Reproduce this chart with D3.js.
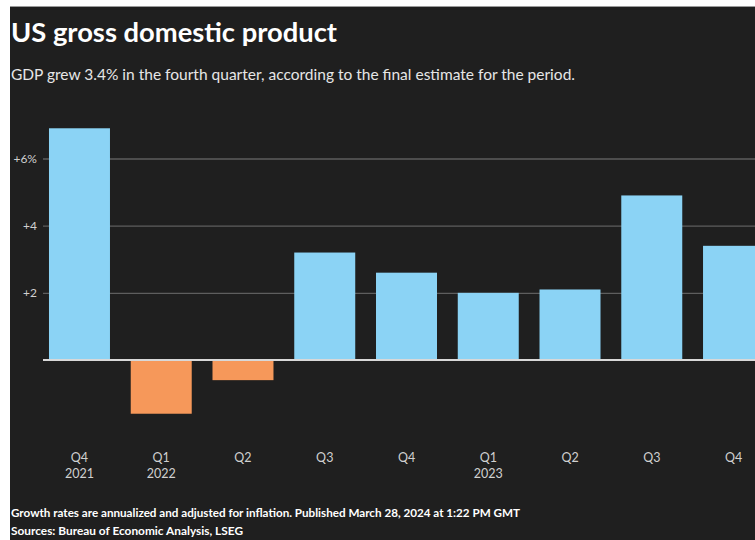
<!DOCTYPE html>
<html>
<head>
<meta charset="utf-8">
<script src="https://cdn.jsdelivr.net/npm/d3@7"></script>
<style>
  html, body { margin: 0; padding: 0; background: #ffffff; }
  svg { display: block; }
  text { font-family: Lato, "Noto Sans", sans-serif; }
</style>
</head>
<body>
<div id="chart"></div>
<script>
// 数据
const quarters = ['Q4', 'Q1', 'Q2', 'Q3', 'Q4', 'Q1', 'Q2', 'Q3', 'Q4'];
const years = ['2021', '2022', '', '', '', '2023', '', '', ''];
const growth = [6.9, -1.6, -0.6, 3.2, 2.6, 2.0, 2.1, 4.9, 3.4];
const yTicks = [2, 4, 6];

const width = 755, height = 540;

const svg = d3.select('#chart')
  .append('svg')
  .attr('width', width)
  .attr('height', height);

// 背景（截图的白边）
svg.append('rect').attr('width', width).attr('height', height).attr('fill', '#ffffff');
svg.append('rect')
  .attr('x', 10).attr('y', 6)
  .attr('width', width - 10).attr('height', height - 6)
  .attr('fill', '#1f1f1f');
svg.append('line')
  .attr('x1', 10).attr('x2', width).attr('y1', 6.5).attr('y2', 6.5)
  .attr('stroke', '#9a9a9a').attr('stroke-width', 1);

// 比例尺
const x = d3.scaleBand()
  .domain(d3.range(growth.length))
  .range([38.6, 774.4])
  .paddingInner(0.254)
  .paddingOuter(0.127);

const y = d3.scaleLinear()
  .domain([0, 6])
  .range([360, 158.5]);

const plot = svg.append('g');

// 网格线
const yAxis = d3.axisLeft(y)
  .tickValues(yTicks)
  .tickSize(-(width - 43))
  .tickFormat(d => d === 6 ? '+6%' : '+' + d);

const gy = plot.append('g')
  .attr('transform', 'translate(43,0)')
  .call(yAxis);
gy.select('.domain').remove();
gy.selectAll('.tick line')
  .attr('stroke', '#5e5e5e')
  .attr('stroke-width', 1.3);
gy.selectAll('.tick text')
  .attr('x', -6)
  .attr('fill', '#d0d0d0')
  .attr('font-size', 12);

// 柱子
plot.append('g')
  .selectAll('rect')
  .data(growth)
  .join('rect')
  .attr('x', (d, i) => x(i))
  .attr('width', x.bandwidth())
  .attr('y', d => y(Math.max(0, d)))
  .attr('height', d => Math.abs(y(d) - y(0)))
  .attr('fill', d => d >= 0 ? '#8bd3f5' : '#f6985a');

// 零线
plot.append('line')
  .attr('x1', 43).attr('x2', width)
  .attr('y1', y(0)).attr('y2', y(0))
  .attr('stroke', '#d8d8d8')
  .attr('stroke-width', 2);

// X 轴标签
const xl = plot.append('g')
  .selectAll('g')
  .data(quarters)
  .join('g')
  .attr('transform', (d, i) => `translate(${x(i) + x.bandwidth() / 2},0)`);
xl.append('text')
  .attr('y', 462)
  .attr('text-anchor', 'middle')
  .attr('fill', '#d0d0d0')
  .attr('font-size', 12.5)
  .text(d => d);
xl.append('text')
  .attr('y', 478)
  .attr('text-anchor', 'middle')
  .attr('fill', '#d0d0d0')
  .attr('font-size', 12.5)
  .text((d, i) => years[i]);

// 标题
svg.append('text')
  .attr('x', 11).attr('y', 42)
  .attr('fill', '#ffffff')
  .attr('font-size', 26)
  .attr('font-weight', 700)
  .attr('textLength', 326)
  .attr('lengthAdjust', 'spacingAndGlyphs')
  .text('US gross domestic product');

svg.append('text')
  .attr('x', 11).attr('y', 80)
  .attr('fill', '#e6e6e6')
  .attr('font-size', 15)
  .attr('textLength', 564)
  .attr('lengthAdjust', 'spacingAndGlyphs')
  .text('GDP grew 3.4% in the fourth quarter, according to the final estimate for the period.');

// 脚注
svg.append('text')
  .attr('x', 11).attr('y', 517)
  .attr('fill', '#ffffff')
  .attr('font-size', 11)
  .attr('font-weight', 700)
  .attr('textLength', 509)
  .attr('lengthAdjust', 'spacingAndGlyphs')
  .text('Growth rates are annualized and adjusted for inflation. Published March 28, 2024 at 1:22 PM GMT');

svg.append('text')
  .attr('x', 11).attr('y', 535)
  .attr('fill', '#ffffff')
  .attr('font-size', 11)
  .attr('font-weight', 700)
  .attr('textLength', 232)
  .attr('lengthAdjust', 'spacingAndGlyphs')
  .text('Sources: Bureau of Economic Analysis, LSEG');
</script>
</body>
</html>
